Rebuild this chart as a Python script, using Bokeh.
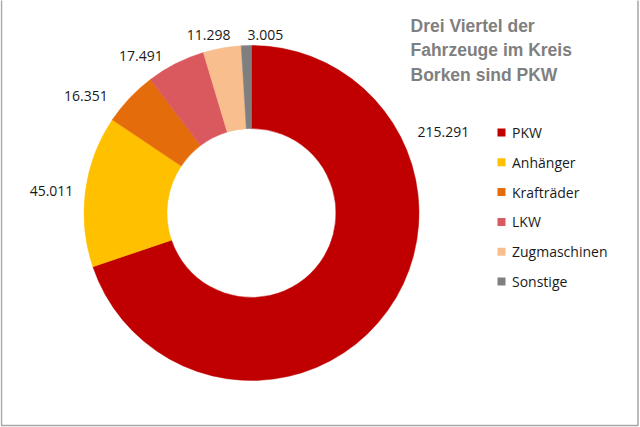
import numpy as np
from bokeh.plotting import figure
from bokeh.models import ColumnDataSource, Range1d
from bokeh.core.properties import value
from bokeh.embed import file_html
from bokeh.resources import INLINE

# Vehicle counts in Kreis Borken
categories = ["PKW", "Anhänger", "Krafträder", "LKW", "Zugmaschinen", "Sonstige"]
counts = [215291, 45011, 16351, 17491, 11298, 3005]
colors = ["#C00000", "#FFC000", "#E46C0A", "#D9595F", "#F8BE8E", "#7F7F7F"]
title_lines = ["Drei Viertel der", "Fahrzeuge im Kreis", "Borken sind PKW"]

# Layout (canvas units == pixels, y measured upward)
W, H = 640, 427
CX, CY = 251, H - 212.5
R_OUT, R_IN = 167.5, 84.5
# value-label placement: position along each slice's arc (0 = start, 1 = end),
# distance beyond the outer edge, and text anchoring
label_frac = [0.255, 0.49, 0.28, 0.37, 0.74, 0.63]
label_gap = [17, 12, 18, 12.5, 6.5, 6]
label_align = ["left", "right", "right", "right", "right", "left"]
label_base = ["middle", "middle", "middle", "middle", "bottom", "bottom"]

vals = np.array(counts, dtype=float)
cum = np.concatenate([[0.0], np.cumsum(vals) / vals.sum()])
# clockwise from 12 o'clock
theta0 = 2 * np.pi * cum[:-1]
theta1 = 2 * np.pi * cum[1:]

wedges = ColumnDataSource(dict(
    start=np.pi / 2 - theta0,
    end=np.pi / 2 - theta1,
    color=colors,
))

p = figure(width=W, height=H, x_range=Range1d(0, W), y_range=Range1d(0, H),
           toolbar_location=None, output_backend="svg", min_border=0,
           x_axis_location=None, y_axis_location=None)
p.grid.visible = False
p.outline_line_color = None
p.background_fill_color = "white"
p.border_fill_color = "white"

p.annular_wedge(x=CX, y=CY, inner_radius=R_IN, outer_radius=R_OUT,
                start_angle="start", end_angle="end", direction="clock",
                fill_color="color", line_color="color", line_width=0.5,
                source=wedges)

# value labels outside the ring
lx, ly, lt = [], [], []
for i, v in enumerate(counts):
    th = theta0[i] + label_frac[i] * (theta1[i] - theta0[i])
    d = R_OUT + label_gap[i]
    lx.append(CX + d * np.sin(th))
    ly.append(CY + d * np.cos(th))
    lt.append(f"{v:,}".replace(",", "."))

p.text(x="x", y="y", text="t", text_align="a", text_baseline="b",
       source=ColumnDataSource(dict(x=lx, y=ly, t=lt, a=label_align, b=label_base)),
       text_font=value("Open Sans"), text_font_size="14px", text_color="#1a1a1a")

# legend
n = len(categories)
leg_y = [H - (132 + 29.8 * i) for i in range(n)]
p.rect(x=[501] * n, y=leg_y, width=8, height=8, fill_color=colors, line_color=None)
p.text(x=[511.5] * n, y=leg_y, text=categories, text_baseline="middle",
       text_font=value("Open Sans"), text_font_size="14px", text_color="#1a1a1a")

# title
p.text(x=[410] * 3, y=[H - (25 + 24.5 * i) for i in range(3)], text=title_lines,
       text_baseline="middle", text_font=value("Liberation Sans"),
       text_font_style="bold", text_font_size="17.5px", text_color="#7F7F7F")

# thin frame
p.quad(left=1, right=637.5, bottom=H - 425, top=H + 2,
       fill_color=None, line_color="#A6A6A6", line_width=1.5)

open("out.html", "w").write(file_html(p, INLINE))
